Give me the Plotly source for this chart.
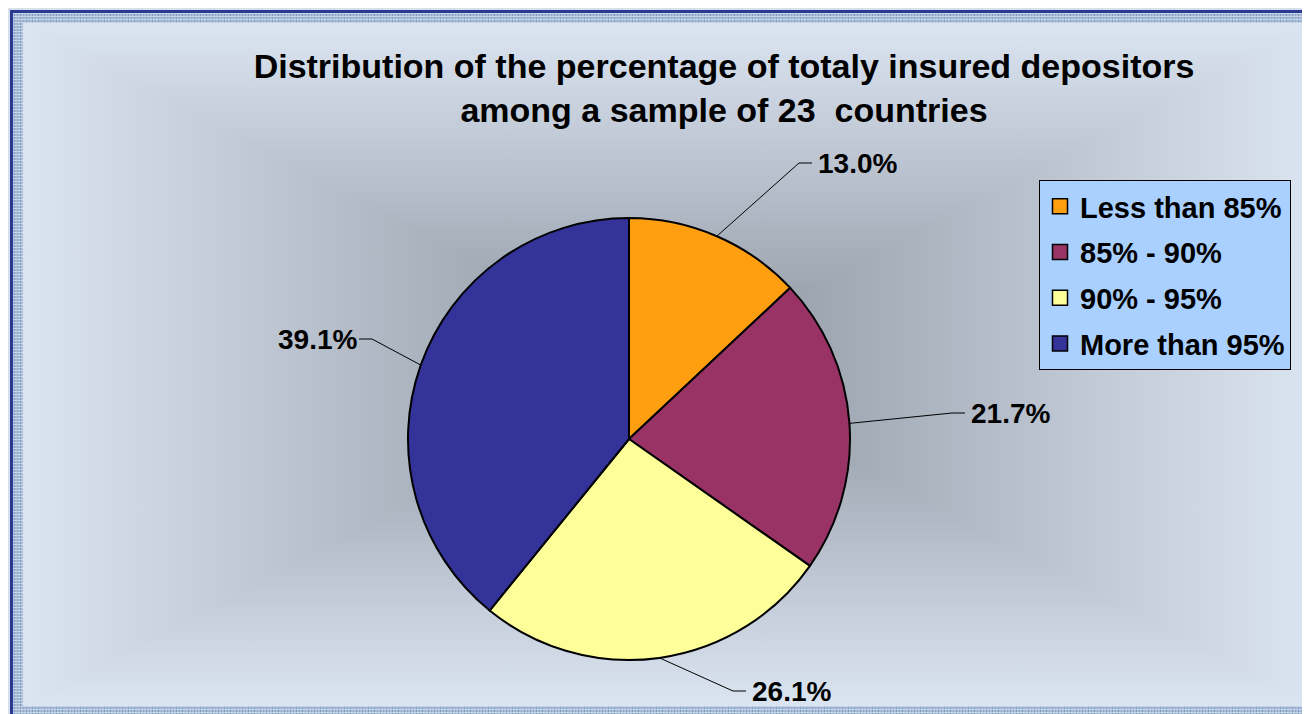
import math
import base64
import plotly.graph_objects as go

# ---------------- data ----------------
categories = ["Less than 85%", "85% - 90%", "90% - 95%", "More than 95%"]
percentages = [13.0, 21.7, 26.1, 39.1]
title_lines = ["Distribution of the percentage of totaly insured depositors",
               "among a sample of 23  countries"]

# ---------------- style / layout ----------------
colors = ["#FF9F10", "#993366", "#FFFF99", "#333399"]
W, H = 1310, 714
OFF = 8                             # page body margin of the html page
CX, CY, R = 629, 439, 221          # pie centre / radius in screen pixels
elbows = [(799, 163), (952, 413), (733, 691), (372, 339)]  # label anchor points (px)
FONT = "Liberation Sans, Arial, sans-serif"


def px(x, y):
    """screen pixel -> paper coordinates"""
    return (x - OFF) / W, 1 - (y - OFF) / H


# background: page colour, blue frame, patterned border, rectangular "from centre" gradient
fx, fy = 10 - OFF, 10 - OFF
L_, T_, R_, B_ = 23 - OFF, 23 - OFF, 1313 - OFF, 706 - OFF
cxg, cyg = (L_ + R_) / 2, (T_ + B_) / 2
edge, centre = "#dbe5f1", "#8d94a0"
svg = f'''<svg xmlns="http://www.w3.org/2000/svg" width="{W}" height="{H}" viewBox="0 0 {W} {H}">
<defs>
<pattern id="p" width="6" height="6" patternUnits="userSpaceOnUse">
<rect width="6" height="6" fill="#a9bcd7"/>
<rect x="0" y="0" width="1" height="6" fill="#7f9bc3"/>
<rect x="3" y="0" width="1" height="6" fill="#90a9cc"/>
<rect x="0" y="2" width="6" height="1" fill="#c5d3e7"/>
<rect x="0" y="5" width="6" height="1" fill="#c5d3e7"/>
</pattern>
<linearGradient id="gh" gradientUnits="userSpaceOnUse" x1="{L_}" y1="0" x2="{R_}" y2="0">
<stop offset="0" stop-color="{edge}"/><stop offset="0.5" stop-color="{centre}"/><stop offset="1" stop-color="{edge}"/>
</linearGradient>
<linearGradient id="gv" gradientUnits="userSpaceOnUse" x1="0" y1="{T_}" x2="0" y2="{B_}">
<stop offset="0" stop-color="{edge}"/><stop offset="0.5" stop-color="{centre}"/><stop offset="1" stop-color="{edge}"/>
</linearGradient>
</defs>
<rect width="{W}" height="{H}" fill="#d6dfea"/>
<rect x="{fx}" y="{fy}" width="{W + 20}" height="{H + 20}" fill="#2b3990"/>
<rect x="{fx + 3}" y="{fy + 3}" width="{W + 20}" height="{H + 20}" fill="url(#p)"/>
<rect x="{L_}" y="{T_}" width="{R_ - L_}" height="{B_ - T_}" fill="url(#gh)"/>
<polygon points="{L_},{T_} {R_},{T_} {cxg},{cyg}" fill="url(#gv)"/>
<polygon points="{L_},{B_} {R_},{B_} {cxg},{cyg}" fill="url(#gv)"/>
</svg>'''
bg_uri = "data:image/svg+xml;base64," + base64.b64encode(svg.encode()).decode()

fig = go.Figure()

d0 = px(CX - R, CY + R)
d1 = px(CX + R, CY - R)
fig.add_trace(go.Pie(
    labels=categories, values=percentages, sort=False,
    direction="clockwise", rotation=0, textinfo="none", showlegend=False,
    marker=dict(colors=colors, line=dict(color="black", width=2)),
    domain=dict(x=[d0[0], d1[0]], y=[d0[1], d1[1]]),
    hoverinfo="label+percent",
))

# legend entries
for i, (cat, col) in enumerate(zip(categories, colors)):
    fig.add_trace(go.Scatter(
        x=[None], y=[None], mode="markers", name=cat, legendgroup=f"g{i}",
        marker=dict(symbol="square", size=15, color=col, line=dict(color="black", width=1.5)),
        showlegend=True, hoverinfo="skip",
    ))

# labels with leader lines
shapes, annotations = [], []
total = sum(percentages)
cum = 0.0
for v, (bx, by) in zip(percentages, elbows):
    mid = (cum + v / 2) / total * 2 * math.pi
    cum += v
    ex, ey = CX + R * math.sin(mid), CY - R * math.cos(mid)
    side = 1 if bx > CX else -1
    hx = bx + side * 13
    p0, p1, p2 = px(ex, ey), px(bx, by), px(hx, by)
    shapes.append(dict(type="path", xref="paper", yref="paper",
                       path=f"M {p0[0]},{p0[1]} L {p1[0]},{p1[1]} L {p2[0]},{p2[1]}",
                       line=dict(color="black", width=1)))
    tx, ty = px(hx + (4 if side > 0 else 0), by)
    annotations.append(dict(text=f"{v:.1f}%", x=tx, y=ty, xref="paper", yref="paper",
                            xanchor="left" if side > 0 else "right", yanchor="middle",
                            showarrow=False,
                            font=dict(family=FONT, size=28, color="black", weight="bold")))

lg = px(1039, 180)
fig.update_layout(
    width=W, height=H,
    margin=dict(l=0, r=0, t=0, b=0),
    paper_bgcolor="#d6dfea", plot_bgcolor="rgba(0,0,0,0)",
    images=[dict(source=bg_uri, xref="paper", yref="paper", x=0, y=1, sizex=1, sizey=1,
                 xanchor="left", yanchor="top", sizing="stretch", layer="below")],
    title=dict(text="<br>".join(title_lines), x=(724 - OFF) / W, xanchor="center",
               y=1 - 70 / H, yanchor="top", yref="paper",
               font=dict(family=FONT, size=34, color="black", weight="bold")),
    xaxis=dict(visible=False), yaxis=dict(visible=False),
    showlegend=True,
    legend=dict(x=lg[0], y=lg[1], xanchor="left", yanchor="top",
                bgcolor="#a9d0ff", bordercolor="black", borderwidth=1,
                font=dict(family=FONT, size=29, color="black", weight="bold"),
                tracegroupgap=5, traceorder="grouped"),
    shapes=shapes, annotations=annotations,
)

fig.write_html("out.html")
